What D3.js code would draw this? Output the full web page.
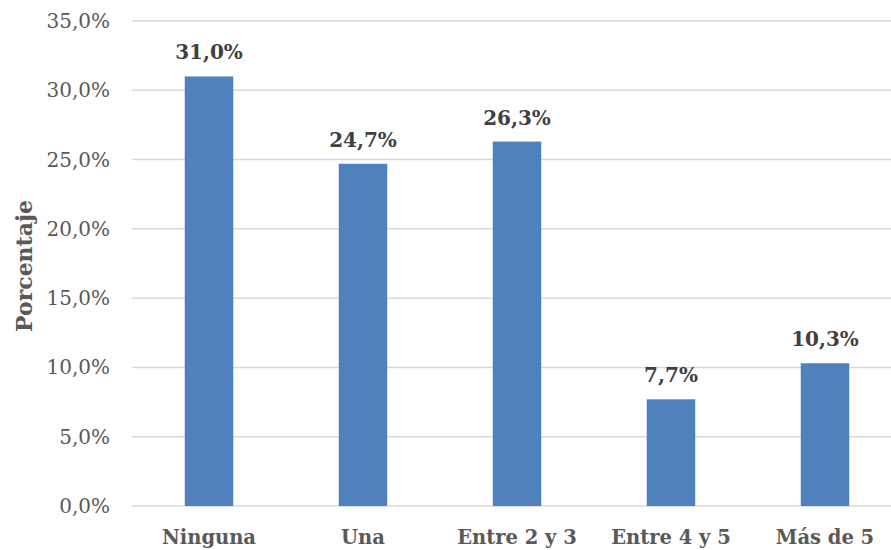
<!DOCTYPE html>
<html><head><meta charset="utf-8">
<script src="https://cdn.jsdelivr.net/npm/d3@7"></script>
<style>body{margin:0;background:#fff}svg{display:block}</style>
</head><body><svg id="c" width="891" height="550"></svg>
<script>
const categories = ["Ninguna","Una","Entre 2 y 3","Entre 4 y 5","Más de 5"];
const values = [31.0, 24.7, 26.3, 7.7, 10.3];
const yTicks = [0,5,10,15,20,25,30,35];
const yTitle = "Porcentaje";

const svg = d3.select("#c");
const fontFam = "'DejaVu Serif', serif";
const fmt = v => v.toFixed(1).replace(".", ",") + "%";

const x = d3.scaleBand().domain(categories).range([132, 902]).padding(0);
const y = d3.scaleLinear().domain([0,35]).range([506, 21]);
const barW = x.bandwidth() * 0.315;

svg.append("g").selectAll("line").data(yTicks).join("line")
  .attr("x1", 132).attr("x2", 891)
  .attr("y1", d => y(d)).attr("y2", d => y(d))
  .attr("stroke", "#d9d9d9").attr("stroke-width", 1.5);

svg.append("g").selectAll("text").data(yTicks).join("text")
  .attr("x", 110).attr("y", d => y(d) + 7)
  .attr("text-anchor", "end")
  .attr("font-family", fontFam).attr("font-size", 20)
  .attr("fill", "#595959")
  .text(d => fmt(d));

svg.append("g").selectAll("rect").data(values).join("rect")
  .attr("x", (d,i) => x(categories[i]) + x.bandwidth()/2 - barW/2)
  .attr("width", barW)
  .attr("y", d => y(d)).attr("height", d => y(0) - y(d))
  .attr("fill", "#4f81bd");

svg.append("g").selectAll("text").data(values).join("text")
  .attr("x", (d,i) => x(categories[i]) + x.bandwidth()/2)
  .attr("y", d => y(d) - 17)
  .attr("text-anchor", "middle")
  .attr("font-family", fontFam).attr("font-size", 20).attr("font-weight", "bold")
  .attr("fill", "#404040")
  .text(d => fmt(d));

svg.append("g").selectAll("text").data(categories).join("text")
  .attr("x", d => x(d) + x.bandwidth()/2)
  .attr("y", 544)
  .attr("text-anchor", "middle")
  .attr("font-family", fontFam).attr("font-size", 19.5).attr("font-weight", "bold")
  .attr("fill", "#595959")
  .text(d => d);

svg.append("text")
  .attr("transform", "translate(32,266) rotate(-90)")
  .attr("text-anchor", "middle")
  .attr("font-family", fontFam).attr("font-size", 22).attr("font-weight", "bold")
  .attr("fill", "#595959")
  .text(yTitle);
</script></body></html>
